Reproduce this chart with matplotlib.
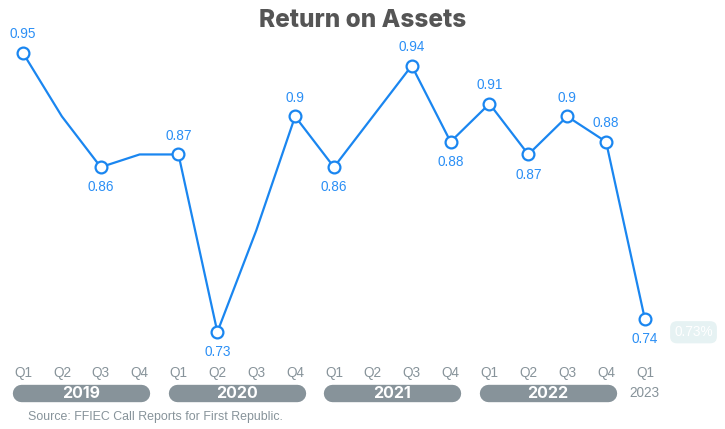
import matplotlib
matplotlib.use('Agg')
import matplotlib.pyplot as plt

# quarterly return on assets, Q1 2019 .. Q1 2023
quarters = ['Q1', 'Q2', 'Q3', 'Q4'] * 4 + ['Q1']
years = ['2019', '2020', '2021', '2022']
roa = [0.95, 0.90, 0.86, 0.87, 0.87, 0.73, 0.81, 0.90, 0.86, 0.90,
       0.94, 0.88, 0.91, 0.87, 0.90, 0.88, 0.74]
# which points get a marker + label, and where the label goes
label_idx = [0, 2, 4, 5, 7, 8, 10, 11, 12, 13, 14, 15, 16]
label_pos = ['up', 'down', 'up', 'down', 'up', 'down', 'up', 'down',
             'up', 'down', 'up', 'up', 'down']
badge_text = '0.73%'

BLUE = '#1a86f0'
GRAY = '#87939a'

plt.rcParams['font.family'] = ['Liberation Sans', 'DejaVu Sans']

fig = plt.figure(figsize=(7.25, 4.29), dpi=100)
ax = fig.add_axes([0, 0, 1, 1])
ax.set_xlim(-0.592, 18.06)
ax.set_ylim(0.6535, 0.9918)
ax.axis('off')

xs = list(range(len(roa)))
ax.plot(xs, roa, color=BLUE, lw=1.6, zorder=2)
ax.plot([xs[i] for i in label_idx], [roa[i] for i in label_idx], 'o',
        ms=8.5, mfc='white', mec=BLUE, mew=1.6, zorder=3)

for i, pos in zip(label_idx, label_pos):
    txt = f'{roa[i]:g}'
    dy = 13.5 if pos == 'up' else -14.5
    ax.annotate(txt, (i, roa[i]), xytext=(0, dy), textcoords='offset points',
                ha='center', va='center', fontsize=9.8, color='#2b8ff5')

# badge to the right of last point
ax.text(17.25, 0.7298, badge_text, ha='center', va='center', fontsize=9.8,
        color='white',
        bbox=dict(boxstyle='round,pad=0.3,rounding_size=0.5',
                  fc='#e6f2f3', ec='none'))

# quarter labels
y_q = 0.6976
for i, q in enumerate(quarters):
    ax.text(i, y_q, q, ha='center', va='center', fontsize=9.8, color=GRAY)

# year pills
y_year = 0.6815
for k, yr in enumerate(years):
    x0 = 4 * k
    ax.plot([x0 - 0.04, x0 + 3.04], [y_year, y_year], color=GRAY, lw=12.5,
            solid_capstyle='round', zorder=1)
    ax.text(x0 + 1.5, y_year, yr, ha='center', va='center', fontsize=11.5,
            color='white', fontweight='bold', family=['Inter', 'DejaVu Sans'],
            zorder=2)
ax.text(16, y_year, '2023', ha='center', va='center', fontsize=9.8, color=GRAY)

fig.text(0.5, 0.952, 'Return on Assets', ha='center', va='center',
         fontsize=17.5, fontweight=800, color='#555555',
         family=['Inter', 'DejaVu Sans'])
fig.text(0.039, 0.013, 'Source: FFIEC Call Reports for First Republic.',
         ha='left', va='bottom', fontsize=8.9, color=GRAY)

fig.savefig('out.png', dpi=100)
